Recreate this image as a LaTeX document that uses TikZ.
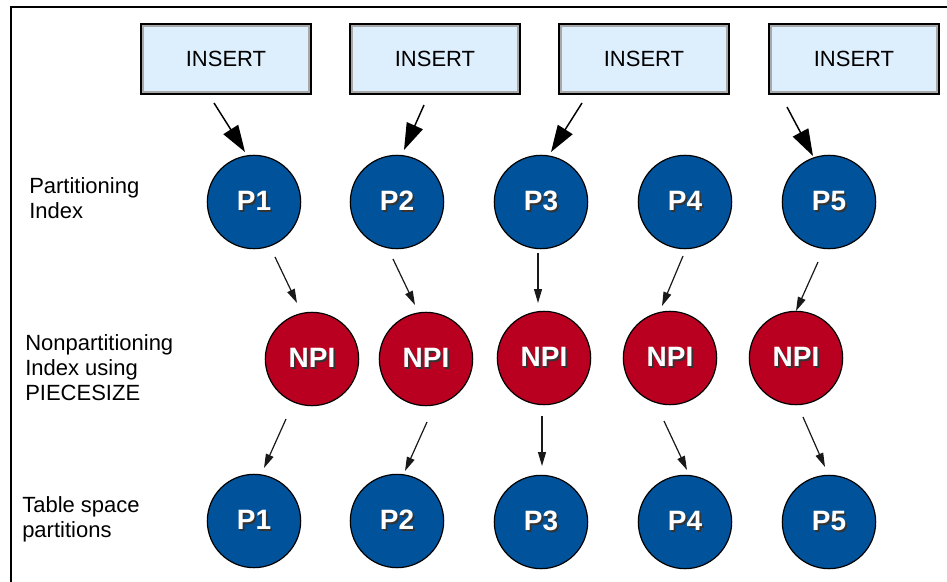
\documentclass[tikz,border=0pt]{standalone}
\usepackage{fontspec}
\setmainfont{Liberation Sans}
\usetikzlibrary{arrows.meta}
\definecolor{pblue}{RGB}{0,83,155}
\definecolor{npired}{RGB}{185,0,32}
\definecolor{boxfill}{RGB}{221,238,252}
\definecolor{boxgray}{RGB}{168,168,168}
\newcommand\shadowtxt[1]{\rlap{\raisebox{-1.3pt}{\hspace{1.3pt}\textcolor{black!80}{#1}}}#1}
\tikzset{
  insertbox/.style={draw=black, line width=1.5pt, fill=boxfill, minimum width=128pt, minimum height=52pt,
    inner sep=0pt, font=\fontsize{16.5}{19}\selectfont,
    path picture={\draw[boxgray, line width=4.5pt] (path picture bounding box.south west) rectangle (path picture bounding box.north east);}},
  pnode/.style={circle, draw=black, line width=0.9pt, fill=pblue, minimum size=70pt, inner sep=0pt,
    text=white, font=\fontsize{21}{24}\selectfont\bfseries},
  npinode/.style={pnode, fill=npired},
  rowlabel/.style={anchor=west, align=left, inner sep=0pt, font=\fontsize{16.5}{18.75}\selectfont},
  bigarrow/.style={line width=1.1pt, -{Triangle[length=20pt, width=13pt]}},
  smallarrow/.style={line width=0.9pt, draw=black!90, -{Triangle[length=10.5pt, width=6pt]}},
}
\begin{document}
\begin{tikzpicture}[x=0.75pt, y=-0.75pt]
\useasboundingbox (0,0) rectangle (947,582);
% frame
\draw[line width=1.2pt] (11,582) -- (11,7) -- (947,7);

% insert boxes
\node[insertbox] (i1) at (226,59) {INSERT};
\node[insertbox] (i2) at (435,59) {INSERT};
\node[insertbox] (i3) at (644,59) {INSERT};
\node[insertbox] (i4) at (854,59) {INSERT};

% row labels
\node[rowlabel] (l1) at (29,198) {Partitioning\\Index};
\node[rowlabel] (l2) at (25,368) {Nonpartitioning\\Index using\\PIECESIZE};
\node[rowlabel] (l3) at (22,519) {Table space\\partitions};

% partitioning index
\node[pnode] (p1) at (254,202) {\shadowtxt{P1}};
\node[pnode] (p2) at (397,202) {\shadowtxt{P2}};
\node[pnode] (p3) at (541,202) {\shadowtxt{P3}};
\node[pnode] (p4) at (685,202) {\shadowtxt{P4}};
\node[pnode] (p5) at (829,202) {\shadowtxt{P5}};

% NPI
\node[npinode] (n1) at (312,359) {\shadowtxt{NPI}};
\node[npinode] (n2) at (426,359) {\shadowtxt{NPI}};
\node[npinode] (n3) at (544,358) {\shadowtxt{NPI}};
\node[npinode] (n4) at (670,358) {\shadowtxt{NPI}};
\node[npinode] (n5) at (796,358) {\shadowtxt{NPI}};

% table space partitions
\node[pnode] (t1) at (254,521) {\shadowtxt{P1}};
\node[pnode] (t2) at (397,521) {\shadowtxt{P2}};
\node[pnode] (t3) at (541,522) {\shadowtxt{P3}};
\node[pnode] (t4) at (685,522) {\shadowtxt{P4}};
\node[pnode] (t5) at (829,522) {\shadowtxt{P5}};

% arrow end points
\coordinate (a1s) at (214,103); \coordinate (a1e) at (245,152);
\coordinate (a2s) at (424,105); \coordinate (a2e) at (404,150);
\coordinate (a3s) at (582,103); \coordinate (a3e) at (551,152);
\coordinate (a4s) at (787,107); \coordinate (a4e) at (813,156);

\coordinate (b1s) at (275,257); \coordinate (b1e) at (297,303);
\coordinate (b2s) at (393,259); \coordinate (b2e) at (415,305);
\coordinate (b3s) at (538,253); \coordinate (b3e) at (538,303);
\coordinate (b4s) at (683,256); \coordinate (b4e) at (662,306);
\coordinate (b5s) at (818,262); \coordinate (b5e) at (796,311);

\coordinate (c1s) at (286,419); \coordinate (c1e) at (264,468);
\coordinate (c2s) at (427,422); \coordinate (c2e) at (405,471);
\coordinate (c3s) at (542,416); \coordinate (c3e) at (542,466);
\coordinate (c4s) at (664,421); \coordinate (c4e) at (687,470);
\coordinate (c5s) at (803,417); \coordinate (c5e) at (825,467);

% arrows
\foreach \k in {1,2,3,4}{\draw[bigarrow] (a\k s) -- (a\k e);}
\foreach \k in {1,2,3,4,5}{\draw[smallarrow] (b\k s) -- (b\k e);}
\foreach \k in {1,2,3,4,5}{\draw[smallarrow] (c\k s) -- (c\k e);}
\end{tikzpicture}
\end{document}
